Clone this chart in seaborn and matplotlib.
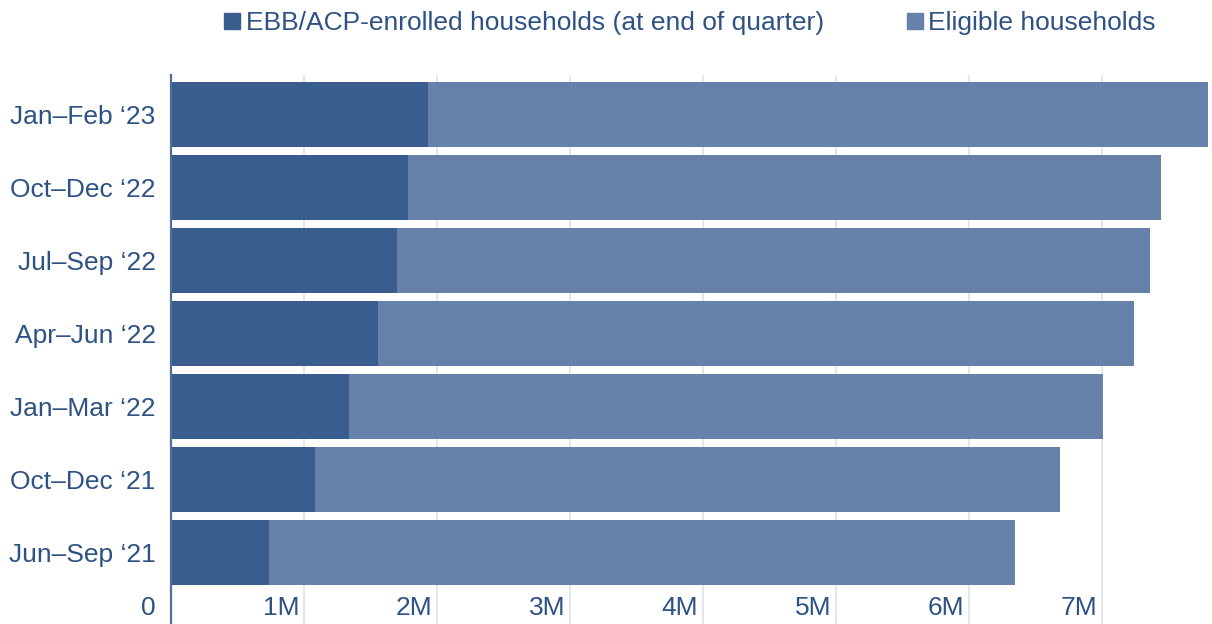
import matplotlib
matplotlib.use("Agg")
import matplotlib.pyplot as plt
from matplotlib.transforms import ScaledTranslation
from matplotlib.lines import Line2D
import seaborn as sns
import pandas as pd

quarters = ["Jan–Feb ‘23", "Oct–Dec ‘22", "Jul–Sep ‘22", "Apr–Jun ‘22",
            "Jan–Mar ‘22", "Oct–Dec ‘21", "Jun–Sep ‘21"]
enrolled = [1.93, 1.78, 1.70, 1.56, 1.34, 1.08, 0.74]   # millions
eligible = [7.80, 7.45, 7.36, 7.24, 7.01, 6.69, 6.35]   # millions
xticks = [0, 1, 2, 3, 4, 5, 6, 7]
xtick_labels = ["0", "1M", "2M", "3M", "4M", "5M", "6M", "7M"]
series_names = ["EBB/ACP-enrolled households (at end of quarter)", "Eligible households"]

c_enr = "#3a5d8f"
c_eli = "#6782aa"
c_txt = "#2f5285"

sns.set_theme(style="white")
plt.rcParams["font.family"] = ["Liberation Sans", "DejaVu Sans"]

df = pd.DataFrame({"quarter": quarters, "enrolled": enrolled, "eligible": eligible})

fig = plt.figure(figsize=(12.12, 6.24), dpi=100)
ax = fig.add_axes([171/1212, 0, (1208-171)/1212, 1 - 75/624])

sns.barplot(data=df, x="eligible", y="quarter", orient="h", color=c_eli,
            width=0.89, ax=ax, saturation=1, zorder=2, linewidth=0)
sns.barplot(data=df, x="enrolled", y="quarter", orient="h", color=c_enr,
            width=0.89, ax=ax, saturation=1, zorder=3, linewidth=0)

ax.set_xlim(0, 7.8)
ax.set_ylim(6.979, -0.541)
ax.set_xlabel("")
ax.set_ylabel("")

fs = 19
ax.set_xticks(xticks)
ax.set_xticklabels(xtick_labels)
ax.xaxis.grid(True, color="#dde3ec", linewidth=1.2, zorder=0)
ax.set_axisbelow(True)
ax.tick_params(axis="x", length=0, pad=-20.5, labelsize=fs, labelcolor=c_txt)
ax.tick_params(axis="y", length=0, pad=11, labelsize=fs, labelcolor=c_txt)
for lbl in ax.get_xticklabels():
    lbl.set_transform(lbl.get_transform() + ScaledTranslation(-23/100, 0, fig.dpi_scale_trans))
    lbl.set_verticalalignment("top")

for s in ["top", "right", "bottom"]:
    ax.spines[s].set_visible(False)
ax.spines["left"].set_color("#4f6e98")
ax.spines["left"].set_linewidth(1.6)
ax.spines["left"].set_zorder(4)

handles = [Line2D([0], [0], marker="s", linestyle="", markersize=12,
                  markerfacecolor=c, markeredgecolor=c) for c in (c_enr, c_eli)]
leg = fig.legend(handles, series_names, loc="center", bbox_to_anchor=(688/1212, 1 - 23/624),
                 ncol=2, frameon=False, fontsize=fs, handletextpad=0.05,
                 columnspacing=3.0, handlelength=0.9)
for t in leg.get_texts():
    t.set_color(c_txt)

fig.savefig("out.png", dpi=100)
